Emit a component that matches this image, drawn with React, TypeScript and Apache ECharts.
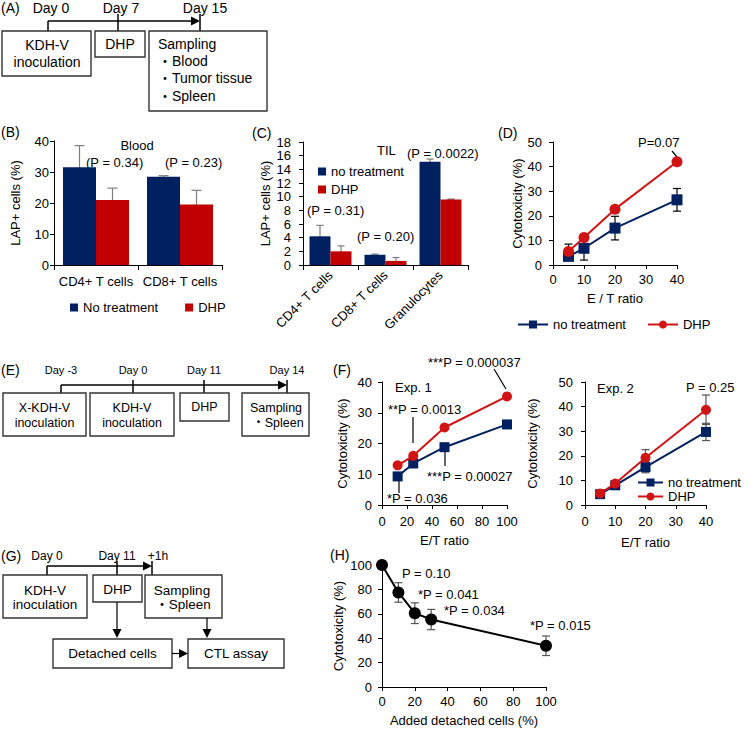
import React, { useEffect, useRef } from "react";
import * as echarts from "echarts";

const FONT = '"Liberation Sans", Arial, Helvetica, sans-serif';
const CJK = '"Liberation Sans", "Noto Sans CJK JP", sans-serif';
const NAVY = "#002060";
const RED = "#C00000";
const LINE_RED = "#D01414";
const GRAY = "#7F7F7F";

// (B) LAP+ cells in blood
const bloodCategories = ["CD4+ T cells", "CD8+ T cells"];
const bloodNoTreatment = [31.5, 28.5];
const bloodNoTreatmentErr = [7.0, 0.3];
const bloodDHP = [21.0, 19.5];
const bloodDHPErr = [3.8, 4.6];

// (C) LAP+ cells among tumor-infiltrating leukocytes
const tilCategories = ["CD4+ T cells", "CD8+ T cells", "Granulocytes"];
const tilNoTreatment = [4.2, 1.5, 15.1];
const tilNoTreatmentErr = [1.6, 0.1, 0.4];
const tilDHP = [2.0, 0.6, 9.6];
const tilDHPErr = [0.8, 0.5, 0.05];

// (D) CTL assay
const ctlRatios = [5, 10, 20, 40];
const ctlNoTreatment = [3.5, 6.8, 15.0, 26.5];
const ctlNoTreatmentErr = [1.5, 4.8, 4.8, 4.6];
const ctlDHP = [5.5, 11.2, 22.7, 42.0];
const ctlDHPErr = [3.0, 0.5, 0.5, 0.5];

// (F) Exp. 1
const exp1Ratios = [12.5, 25, 50, 100];
const exp1NoTreatment = [9.3, 13.5, 18.8, 26.2];
const exp1DHP = [12.9, 16.0, 25.2, 35.3];

// (F) Exp. 2
const exp2Ratios = [5, 10, 20, 40];
const exp2NoTreatment = [4.4, 8.0, 15.4, 29.7];
const exp2NoTreatmentErr = [0.5, 0.5, 2.3, 3.5];
const exp2DHP = [4.7, 8.7, 19.2, 38.7];
const exp2DHPErr = [0.5, 0.5, 3.3, 6.0];

// (H) detached cells added to the CTL assay
const detachedPct = [0, 10, 20, 30, 100];
const detachedCytotox = [100, 77.5, 60.5, 55.3, 33.8];
const detachedErr = [0, 8.0, 8.5, 8.3, 8.0];

const legendName = (n: string) => n.split("|")[0];

function errorBars(
  name: string,
  axis: number,
  data: number[][],
  color: string,
  cap: number,
  offset: number
) {
  return {
    type: "custom",
    name,
    xAxisIndex: axis,
    yAxisIndex: axis,
    z: 1,
    silent: true,
    encode: { x: 0, y: 1 },
    data,
    renderItem: (_params: any, api: any) => {
      const x = api.value(0);
      const y = api.value(1);
      const e = api.value(2);
      const hi = api.coord([x, y + e]);
      const lo = api.coord([x, y - e]);
      const cx = hi[0] + offset;
      const style = { stroke: color, lineWidth: 1.2 };
      return {
        type: "group",
        children: [
          { type: "line", shape: { x1: cx, y1: hi[1], x2: cx, y2: lo[1] }, style },
          { type: "line", shape: { x1: cx - cap, y1: hi[1], x2: cx + cap, y2: hi[1] }, style },
          { type: "line", shape: { x1: cx - cap, y1: lo[1], x2: cx + cap, y2: lo[1] }, style },
        ],
      };
    },
  };
}

const pairs = (xs: number[], ys: number[]) => xs.map((x, i) => [x, ys[i]]);
const triples = (xs: number[], ys: number[], es: number[]) => xs.map((x, i) => [x, ys[i], es[i]]);

// ---- drawing helpers for the schematic timelines and annotations ----
function T(x: number, y: number, text: string, size = 13, align = "left", family = FONT) {
  return {
    type: "text",
    x,
    y,
    silent: true,
    style: {
      text,
      fill: "#000",
      fontSize: size,
      fontFamily: family,
      align,
      verticalAlign: "middle",
      textAlign: align,
      textVerticalAlign: "middle",
    },
  };
}
function L(x1: number, y1: number, x2: number, y2: number, w = 1.5) {
  return { type: "line", silent: true, shape: { x1, y1, x2, y2 }, style: { stroke: "#000", lineWidth: w } };
}
function box(x: number, y: number, width: number, height: number) {
  return {
    type: "rect",
    silent: true,
    shape: { x, y, width, height },
    style: { fill: "#fff", stroke: "#333", lineWidth: 1.4 },
  };
}
function arrowRight(x: number, y: number) {
  return { type: "polygon", silent: true, shape: { points: [[x, y], [x - 9, y - 4.5], [x - 9, y + 4.5]] }, style: { fill: "#000" } };
}
function arrowDown(x: number, y: number) {
  return { type: "polygon", silent: true, shape: { points: [[x, y], [x - 4.5, y - 9], [x + 4.5, y - 9]] }, style: { fill: "#000" } };
}

const graphicElements: any[] = [
  // (A)
  T(1, 7.5, "(A)", 14),
  T(51, 7.5, "Day 0", 14, "center"),
  T(121, 7.5, "Day 7", 14, "center"),
  T(205, 7.5, "Day 15", 14, "center"),
  L(48, 21, 193, 21),
  arrowRight(200, 21),
  L(48, 21, 48, 31),
  L(118, 14, 118, 31),
  L(200, 14, 200, 31),
  box(2, 31, 89, 45),
  T(47, 45, "KDH-V", 14, "center"),
  T(47, 62, "inoculation", 14, "center"),
  box(95, 31, 50, 26),
  T(120, 44, "DHP", 14, "center"),
  box(149, 31, 118, 80),
  T(158, 44, "Sampling", 14),
  T(158, 61, "・Blood", 14, "left", CJK),
  T(158, 78, "・Tumor tissue", 14, "left", CJK),
  T(158, 96, "・Spleen", 14, "left", CJK),

  // (B)
  T(1, 132, "(B)", 14),
  T(137, 145, "Blood", 13, "center"),
  T(86, 162, "(P = 0.34)"),
  T(165, 162, "(P = 0.23)"),

  // (C)
  T(252, 133, "(C)", 14),
  T(377, 150, "TIL"),
  T(307, 210, "(P = 0.31)"),
  T(357, 236, "(P = 0.20)"),
  T(407, 153, "(P = 0.0022)"),

  // (D)
  T(498, 133, "(D)", 14),
  T(638, 142, "P=0.07"),
  L(672, 151, 677, 157, 1.2),

  // (E)
  T(1, 370, "(E)", 14),
  T(61, 370, "Day -3", 11, "center"),
  T(133, 370, "Day 0", 11, "center"),
  T(204, 370, "Day 11", 11, "center"),
  T(287, 370, "Day 14", 11, "center"),
  L(61, 385, 280, 385),
  arrowRight(287, 385),
  L(61, 385, 61, 393),
  L(133, 380, 133, 393),
  L(204, 380, 204, 393),
  L(287, 380, 287, 393),
  box(3, 393, 83, 43),
  T(44.5, 408, "X-KDH-V", 12.5, "center"),
  T(44.5, 423, "inoculation", 12.5, "center"),
  box(90, 393, 84, 43),
  T(132, 408, "KDH-V", 12.5, "center"),
  T(132, 423, "inoculation", 12.5, "center"),
  box(180, 393, 49, 28),
  T(204.5, 407, "DHP", 12.5, "center"),
  box(242, 393, 67, 43),
  T(276, 408, "Sampling", 12.5, "center"),
  T(278, 423, "・Spleen", 12.5, "center", CJK),

  // (F)
  T(333, 370, "(F)", 14),
  T(395, 387, "Exp. 1"),
  T(428, 362, "***P = 0.000037"),
  L(494, 369, 506, 389, 1.2),
  T(388, 409, "**P = 0.0013"),
  L(413, 417, 413, 443, 1.2),
  T(427, 476, "***P = 0.00027"),
  L(445, 452, 445, 466, 1.2),
  T(387, 498, "*P = 0.036"),
  L(399, 480, 399, 493, 1.2),
  T(597, 388, "Exp. 2"),
  T(686, 387, "P = 0.25"),

  // (G)
  T(1, 556, "(G)", 14),
  T(47, 556, "Day 0", 12, "center"),
  T(117, 556, "Day 11", 12, "center"),
  T(158, 556, "+1h", 12, "center"),
  L(47, 566, 145, 566),
  arrowRight(152, 566),
  L(47, 566, 47, 575),
  L(117, 561, 117, 575),
  L(152, 561, 152, 575),
  box(3, 575, 84, 43),
  T(45, 590, "KDH-V", 13.5, "center"),
  T(45, 604, "inoculation", 13.5, "center"),
  box(93, 575, 49, 27),
  T(117.5, 589, "DHP", 13.5, "center"),
  box(145, 575, 77, 43),
  T(182, 590, "Sampling", 13.5, "center"),
  T(183, 604, "・Spleen", 13.5, "center", CJK),
  L(117, 602, 117, 631, 1.2),
  arrowDown(117, 638),
  L(207, 618, 207, 631, 1.2),
  arrowDown(207, 638),
  box(53, 639, 119, 29),
  T(112.5, 653.5, "Detached cells", 13.5, "center"),
  box(188, 639, 96, 29),
  T(236, 653.5, "CTL assay", 13.5, "center"),
  L(172, 653.5, 181, 653.5, 1.2),
  arrowRight(188, 653.5),

  // (H)
  T(330, 555, "(H)", 14),
  T(402, 573, "P = 0.10"),
  T(418, 594, "*P = 0.041"),
  T(444, 610, "*P = 0.034"),
  T(530, 625, "*P = 0.015"),
];

const axisBase = {
  axisLine: { show: true, onZero: false, lineStyle: { color: "#000", width: 1 } },
  axisTick: { show: true, length: 4, lineStyle: { color: "#000", width: 1 } },
  splitLine: { show: false },
  nameTextStyle: { color: "#000", fontSize: 13, fontFamily: FONT },
};
const label = (margin: number, extra: any = {}) => ({
  color: "#000",
  fontSize: 13,
  fontFamily: FONT,
  margin,
  ...extra,
});
const valueAxis = (grid: number, min: number, max: number, interval: number, margin: number, name: string, nameGap: number) => ({
  ...axisBase,
  gridIndex: grid,
  type: "value",
  min,
  max,
  interval,
  name,
  nameLocation: "middle",
  nameGap,
  axisLabel: label(margin),
});

const legendText = { color: "#000", fontSize: 13, fontFamily: FONT };

const option: any = {
  animation: false,
  textStyle: { fontFamily: FONT, color: "#000" },
  grid: [
    { left: 54, top: 141, width: 168, height: 124 },
    { left: 303, top: 142, width: 165, height: 123 },
    { left: 553, top: 142, width: 124, height: 123 },
    { left: 382, top: 382, width: 125, height: 123 },
    { left: 585, top: 382, width: 121, height: 123 },
    { left: 382, top: 565, width: 164, height: 122 },
  ],
  xAxis: [
    { ...axisBase, gridIndex: 0, type: "category", data: bloodCategories, axisTick: { ...axisBase.axisTick, length: 5 }, axisLabel: label(10, { interval: 0 }) },
    { ...axisBase, gridIndex: 1, type: "category", data: tilCategories, axisTick: { ...axisBase.axisTick, length: 5 }, axisLabel: label(8, { interval: 0, rotate: 45 }) },
    valueAxis(2, 0, 40, 10, 8, "E / T ratio", 27),
    valueAxis(3, 0, 100, 20, 10, "E/T ratio", 29),
    valueAxis(4, 0, 40, 10, 10, "E/T ratio", 31),
    valueAxis(5, 0, 100, 20, 8, "Added detached cells (%)", 27),
  ],
  yAxis: [
    valueAxis(0, 0, 40, 10, 5, "LAP+ cells (%)", 32),
    valueAxis(1, 0, 18, 2, 12, "LAP+ cells (%)", 31),
    valueAxis(2, 0, 50, 10, 11, "Cytotoxicity (%)", 29),
    valueAxis(3, 0, 40, 10, 10, "Cytotoxicity (%)", 33),
    valueAxis(4, 0, 50, 10, 12, "Cytotoxicity (%)", 46),
    valueAxis(5, 0, 100, 20, 10, "Cytotoxicity (%)", 37),
  ],
  legend: [
    {
      data: ["No treatment|B", "DHP|B"],
      left: 70,
      top: 301,
      padding: 0,
      icon: "rect",
      itemWidth: 8,
      itemHeight: 8,
      itemGap: 27,
      selectedMode: false,
      formatter: legendName,
      textStyle: legendText,
    },
    {
      data: ["no treatment|C", "DHP|C"],
      orient: "vertical",
      left: 318,
      top: 165,
      padding: 0,
      icon: "rect",
      itemWidth: 8,
      itemHeight: 8,
      itemGap: 5,
      selectedMode: false,
      formatter: legendName,
      textStyle: legendText,
    },
    {
      data: ["no treatment|D", "DHP|D"],
      left: 517,
      top: 318,
      padding: 0,
      itemWidth: 30,
      itemHeight: 10,
      itemGap: 21,
      selectedMode: false,
      formatter: legendName,
      textStyle: legendText,
    },
    {
      data: ["no treatment|F2", "DHP|F2"],
      orient: "vertical",
      left: 637,
      top: 476,
      padding: 0,
      itemWidth: 25,
      itemHeight: 10,
      itemGap: 1,
      selectedMode: false,
      formatter: legendName,
      textStyle: legendText,
    },
  ],
  series: [
    // (B)
    { type: "bar", name: "No treatment|B", xAxisIndex: 0, yAxisIndex: 0, data: bloodNoTreatment, barWidth: 33, barGap: "0%", z: 2, itemStyle: { color: NAVY } },
    { type: "bar", name: "DHP|B", xAxisIndex: 0, yAxisIndex: 0, data: bloodDHP, barWidth: 33, barGap: "0%", z: 2, itemStyle: { color: RED } },
    errorBars("errB1", 0, triples([0, 1], bloodNoTreatment, bloodNoTreatmentErr), GRAY, 5, -16.5),
    errorBars("errB2", 0, triples([0, 1], bloodDHP, bloodDHPErr), GRAY, 5, 16.5),
    // (C)
    { type: "bar", name: "no treatment|C", xAxisIndex: 1, yAxisIndex: 1, data: tilNoTreatment, barWidth: 21, barGap: "0%", z: 2, itemStyle: { color: NAVY } },
    { type: "bar", name: "DHP|C", xAxisIndex: 1, yAxisIndex: 1, data: tilDHP, barWidth: 21, barGap: "0%", z: 2, itemStyle: { color: RED } },
    errorBars("errC1", 1, triples([0, 1, 2], tilNoTreatment, tilNoTreatmentErr), GRAY, 3.5, -10.5),
    errorBars("errC2", 1, triples([0, 1, 2], tilDHP, tilDHPErr), GRAY, 3.5, 10.5),
    // (D)
    errorBars("errD1", 2, triples(ctlRatios, ctlNoTreatment, ctlNoTreatmentErr), "#000", 4, 0),
    errorBars("errD2", 2, triples(ctlRatios, ctlDHP, ctlDHPErr), "#000", 4, 0),
    { type: "line", name: "no treatment|D", xAxisIndex: 2, yAxisIndex: 2, z: 2, data: pairs(ctlRatios, ctlNoTreatment), symbol: "rect", symbolSize: 11, lineStyle: { color: NAVY, width: 2 }, itemStyle: { color: NAVY } },
    { type: "line", name: "DHP|D", xAxisIndex: 2, yAxisIndex: 2, z: 3, data: pairs(ctlRatios, ctlDHP), symbol: "circle", symbolSize: 11, lineStyle: { color: LINE_RED, width: 2 }, itemStyle: { color: LINE_RED } },
    // (F) Exp. 1
    { type: "line", name: "no treatment|F1", xAxisIndex: 3, yAxisIndex: 3, z: 2, data: pairs(exp1Ratios, exp1NoTreatment), symbol: "rect", symbolSize: 10, lineStyle: { color: NAVY, width: 2 }, itemStyle: { color: NAVY } },
    { type: "line", name: "DHP|F1", xAxisIndex: 3, yAxisIndex: 3, z: 3, data: pairs(exp1Ratios, exp1DHP), symbol: "circle", symbolSize: 10, lineStyle: { color: LINE_RED, width: 2 }, itemStyle: { color: LINE_RED } },
    // (F) Exp. 2
    errorBars("errF1", 4, triples(exp2Ratios, exp2NoTreatment, exp2NoTreatmentErr), "#555", 4, 0),
    errorBars("errF2", 4, triples(exp2Ratios, exp2DHP, exp2DHPErr), "#555", 4, 0),
    { type: "line", name: "no treatment|F2", xAxisIndex: 4, yAxisIndex: 4, z: 2, data: pairs(exp2Ratios, exp2NoTreatment), symbol: "rect", symbolSize: 10, lineStyle: { color: NAVY, width: 2 }, itemStyle: { color: NAVY } },
    { type: "line", name: "DHP|F2", xAxisIndex: 4, yAxisIndex: 4, z: 3, data: pairs(exp2Ratios, exp2DHP), symbol: "circle", symbolSize: 10, lineStyle: { color: LINE_RED, width: 2 }, itemStyle: { color: LINE_RED } },
    // (H)
    errorBars("errH", 5, triples(detachedPct, detachedCytotox, detachedErr), "#555", 4, 0),
    { type: "line", name: "Cytotoxicity|H", xAxisIndex: 5, yAxisIndex: 5, z: 2, data: pairs(detachedPct, detachedCytotox), symbol: "circle", symbolSize: 12, lineStyle: { color: "#000", width: 2 }, itemStyle: { color: "#000" } },
  ],
  graphic: { elements: graphicElements },
};

export default function App() {
  const ref = useRef<HTMLDivElement>(null);
  useEffect(() => {
    document.body.style.margin = "0";
    if (!ref.current) return;
    const chart = echarts.init(ref.current, undefined, { renderer: "svg" });
    chart.setOption(option);
    return () => chart.dispose();
  }, []);
  return <div ref={ref} style={{ width: 750, height: 729, background: "#fff" }} />;
}
